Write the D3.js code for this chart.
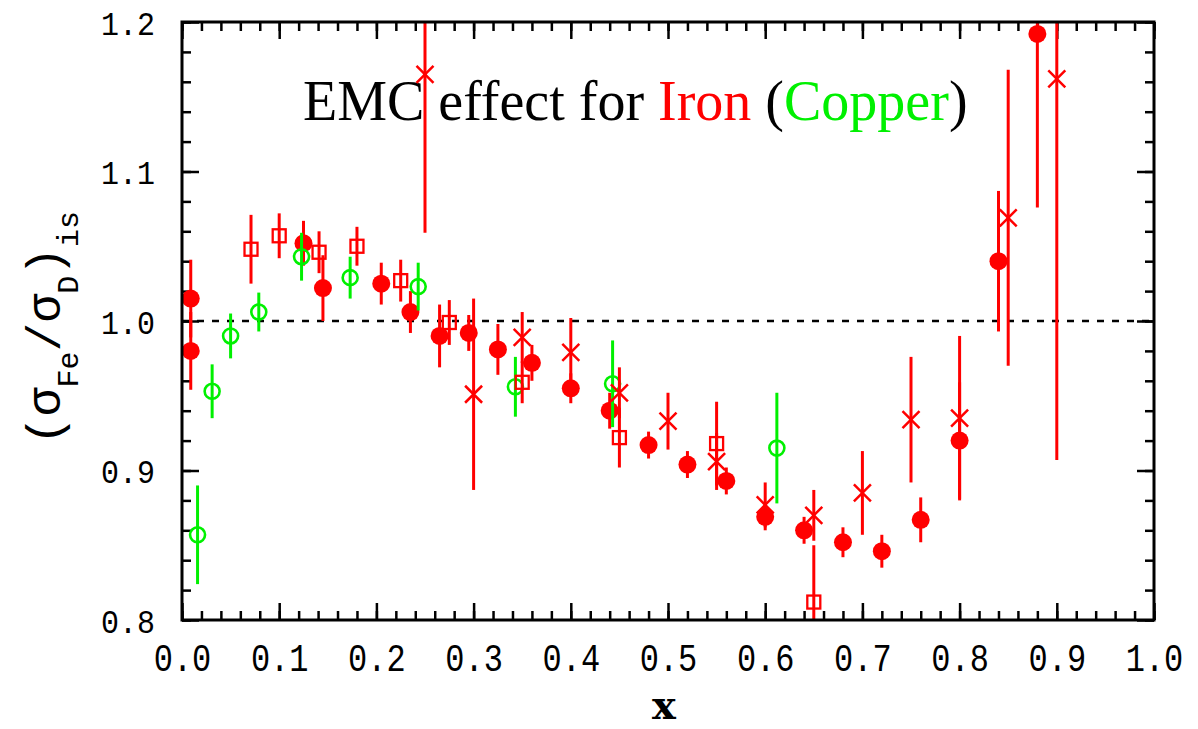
<!DOCTYPE html>
<html>
<head>
<meta charset="utf-8">
<script src="https://cdn.jsdelivr.net/npm/d3@7"></script>
<style>
  body { margin: 0; background: #fff; }
</style>
</head>
<body>
<svg id="vis"></svg>
<script>
// Iron, filled circles: [x, ratio, error]
var ironFilled = [
	[0.009, 1.015, 0.026], [0.009, 0.980, 0.026], [0.125, 1.052, 0.015], [0.145, 1.022, 0.022],
	[0.205, 1.025, 0.014], [0.235, 1.006, 0.014], [0.265, 0.990, 0.021], [0.295, 0.992, 0.012],
	[0.325, 0.981, 0.017], [0.360, 0.972, 0.012], [0.400, 0.955, 0.010], [0.440, 0.940, 0.012],
	[0.480, 0.917, 0.009], [0.520, 0.904, 0.009], [0.560, 0.893, 0.009], [0.600, 0.869, 0.009],
	[0.640, 0.860, 0.009], [0.680, 0.852, 0.010], [0.720, 0.846, 0.011], [0.760, 0.867, 0.015],
	[0.800, 0.920, 0.039], [0.840, 1.040, 0.047], [0.880, 1.192, 0.116]
];

// Iron, open squares
var ironSquares = [
	[0.071, 1.048, 0.023], [0.100, 1.057, 0.015], [0.141, 1.046, 0.014], [0.180, 1.050, 0.013],
	[0.225, 1.027, 0.014], [0.275, 0.999, 0.015], [0.350, 0.959, 0.014], [0.450, 0.922, 0.020],
	[0.550, 0.918, 0.028], [0.650, 0.812, 0.038]
];

// Iron, crosses
var ironCrosses = [
	[0.250, 1.165, 0.106], [0.300, 0.951, 0.064], [0.350, 0.989, 0.017], [0.400, 0.979, 0.023],
	[0.450, 0.952, 0.017], [0.500, 0.933, 0.019], [0.550, 0.906, 0.019], [0.600, 0.877, 0.015],
	[0.650, 0.870, 0.017], [0.700, 0.885, 0.028], [0.750, 0.934, 0.042], [0.800, 0.935, 0.055],
	[0.850, 1.069, 0.099], [0.900, 1.162, 0.255]
];

// Copper, open circles
var copper = [
	[0.016, 0.857, 0.033], [0.031, 0.953, 0.018], [0.050, 0.990, 0.015], [0.079, 1.006, 0.013],
	[0.123, 1.043, 0.016], [0.173, 1.029, 0.014], [0.243, 1.023, 0.016], [0.343, 0.956, 0.020],
	[0.443, 0.958, 0.029], [0.612, 0.915, 0.037]
];

var xTicks = [0, 0.1, 0.2, 0.3, 0.4, 0.5, 0.6, 0.7, 0.8, 0.9, 1.0];
var yTicks = [0.8, 0.9, 1.0, 1.1, 1.2];

var W = 1198, H = 729;
var frame = {left: 182, right: 1154, top: 22, bottom: 620};
var red = "#ff0000", green = "#00f000";
var tickFont = "'Liberation Mono', 'DejaVu Sans Mono', monospace";

var svg = d3.select("svg#vis")
	.attr("width", W)
	.attr("height", H);

svg.append("rect").attr("width", W).attr("height", H).attr("fill", "#fff");

var x = d3.scaleLinear().domain([0, 1]).range([frame.left, frame.right]);
var y = d3.scaleLinear().domain([0.8, 1.2]).range([frame.bottom, frame.top]);

var xMinor = d3.range(0, 1.0001, 0.02);
var yMinor = d3.range(0.8, 1.2001, 0.02);

// minor ticks on all four sides (pointing inwards)
svg.append("g").attr("transform", "translate(0," + frame.bottom + ")")
	.call(d3.axisBottom(x).tickValues(xMinor).tickSize(-9).tickFormat(""));
svg.append("g").attr("transform", "translate(0," + frame.top + ")")
	.call(d3.axisTop(x).tickValues(xMinor).tickSize(-9).tickFormat(""));
svg.append("g").attr("transform", "translate(" + frame.left + ",0)")
	.call(d3.axisLeft(y).tickValues(yMinor).tickSize(-9).tickFormat(""));
svg.append("g").attr("transform", "translate(" + frame.right + ",0)")
	.call(d3.axisRight(y).tickValues(yMinor).tickSize(-9).tickFormat(""));

// major ticks
var xAxis = svg.append("g").attr("class", "xAxis").attr("transform", "translate(0," + frame.bottom + ")")
	.call(d3.axisBottom(x).tickValues(xTicks).tickSize(-17).tickFormat(d3.format(".1f")));
svg.append("g").attr("transform", "translate(0," + frame.top + ")")
	.call(d3.axisTop(x).tickValues(xTicks).tickSize(-17).tickFormat(""));
var yAxis = svg.append("g").attr("class", "yAxis").attr("transform", "translate(" + frame.left + ",0)")
	.call(d3.axisLeft(y).tickValues(yTicks).tickSize(-17).tickFormat(d3.format(".1f")));
svg.append("g").attr("transform", "translate(" + frame.right + ",0)")
	.call(d3.axisRight(y).tickValues(yTicks).tickSize(-17).tickFormat(""));

svg.selectAll(".domain").remove();
svg.selectAll(".tick line").attr("stroke", "#000").attr("stroke-width", 2.5);

xAxis.selectAll("text")
	.attr("font-family", tickFont)
	.attr("font-size", 32)
	.attr("fill", "#000")
	.attr("text-anchor", "middle")
	.attr("y", 0).attr("dy", 0)
	.attr("transform", "translate(0,51) scale(1,1.2)");

yAxis.selectAll("text")
	.attr("font-family", tickFont)
	.attr("font-size", 30)
	.attr("fill", "#000")
	.attr("text-anchor", "end")
	.attr("x", -27).attr("dy", 0)
	.attr("transform", "translate(0,12) scale(1,1.12)");

// dotted line at 1.0
svg.append("line")
	.attr("x1", frame.left).attr("x2", frame.right)
	.attr("y1", y(1.0)).attr("y2", y(1.0))
	.attr("stroke", "#000").attr("stroke-width", 2.5)
	.attr("stroke-dasharray", "7,8");

// Title
var title = svg.append("text")
	.attr("x", 303).attr("y", 120)
	.attr("font-family", "'Liberation Serif', 'Times New Roman', serif")
	.attr("font-size", 56);
title.append("tspan").text("EMC effect for ").attr("fill", "#000");
title.append("tspan").text("Iron").attr("fill", red);
title.append("tspan").text(" (").attr("fill", "#000");
title.append("tspan").text("Copper").attr("fill", green);
title.append("tspan").text(")").attr("fill", "#000");

// clip for error bars
svg.append("clipPath").attr("id", "plotClip")
	.append("rect").attr("x", frame.left).attr("y", frame.top)
	.attr("width", frame.right - frame.left).attr("height", frame.bottom - frame.top);

var plot = svg.append("g").attr("clip-path", "url(#plotClip)");

function errorBars(data, color) {
	plot.append("g").selectAll("line").data(data).enter().append("line")
		.attr("x1", function(d) {return x(d[0])})
		.attr("x2", function(d) {return x(d[0])})
		.attr("y1", function(d) {return y(d[1] + d[2])})
		.attr("y2", function(d) {return y(d[1] - d[2])})
		.attr("stroke", color)
		.attr("stroke-width", 3);
}

// filled circles
errorBars(ironFilled, red);
plot.append("g").selectAll("circle").data(ironFilled).enter().append("circle")
	.attr("cx", function(d) {return x(d[0])})
	.attr("cy", function(d) {return y(d[1])})
	.attr("r", 9)
	.attr("fill", red);

// copper open circles
errorBars(copper, green);
plot.append("g").selectAll("circle").data(copper).enter().append("circle")
	.attr("cx", function(d) {return x(d[0])})
	.attr("cy", function(d) {return y(d[1])})
	.attr("r", 7.5)
	.attr("fill", "none")
	.attr("stroke", green)
	.attr("stroke-width", 2.6);

// open squares
errorBars(ironSquares, red);
plot.append("g").selectAll("rect").data(ironSquares).enter().append("rect")
	.attr("x", function(d) {return x(d[0]) - 6.5})
	.attr("y", function(d) {return y(d[1]) - 6.5})
	.attr("width", 13).attr("height", 13)
	.attr("fill", "none")
	.attr("stroke", red)
	.attr("stroke-width", 2.3);

// crosses
errorBars(ironCrosses, red);
plot.append("g").selectAll("path").data(ironCrosses).enter().append("path")
	.attr("d", function(d) {
		var cx = x(d[0]), cy = y(d[1]), s = 8.5;
		return "M" + (cx - s) + "," + (cy - s) + "L" + (cx + s) + "," + (cy + s) +
			"M" + (cx - s) + "," + (cy + s) + "L" + (cx + s) + "," + (cy - s);
	})
	.attr("fill", "none")
	.attr("stroke", red)
	.attr("stroke-width", 2.5);

// frame
svg.append("rect")
	.attr("x", frame.left).attr("y", frame.top)
	.attr("width", frame.right - frame.left).attr("height", frame.bottom - frame.top)
	.attr("fill", "none")
	.attr("stroke", "#000")
	.attr("stroke-width", 3);

// x axis title
svg.append("text")
	.text("x")
	.attr("x", (frame.left + frame.right) / 2 - 4)
	.attr("y", 719)
	.attr("text-anchor", "middle")
	.attr("font-family", "'DejaVu Serif', serif")
	.attr("font-weight", "bold")
	.attr("font-size", 40);

// y axis title
var ylab = svg.append("text")
	.attr("transform", "translate(60," + 328 + ") rotate(-90)")
	.attr("text-anchor", "middle")
	.attr("font-family", tickFont)
	.attr("font-size", 48)
	.attr("fill", "#000");
ylab.append("tspan").text("(σ");
ylab.append("tspan").text("Fe").attr("font-size", 30).attr("dy", 18);
ylab.append("tspan").text("/σ").attr("dy", -18);
ylab.append("tspan").text("D").attr("font-size", 30).attr("dy", 18);
ylab.append("tspan").text(")").attr("dy", -18);
ylab.append("tspan").text("is").attr("font-size", 30).attr("dy", 18);
</script>
</body>
</html>
